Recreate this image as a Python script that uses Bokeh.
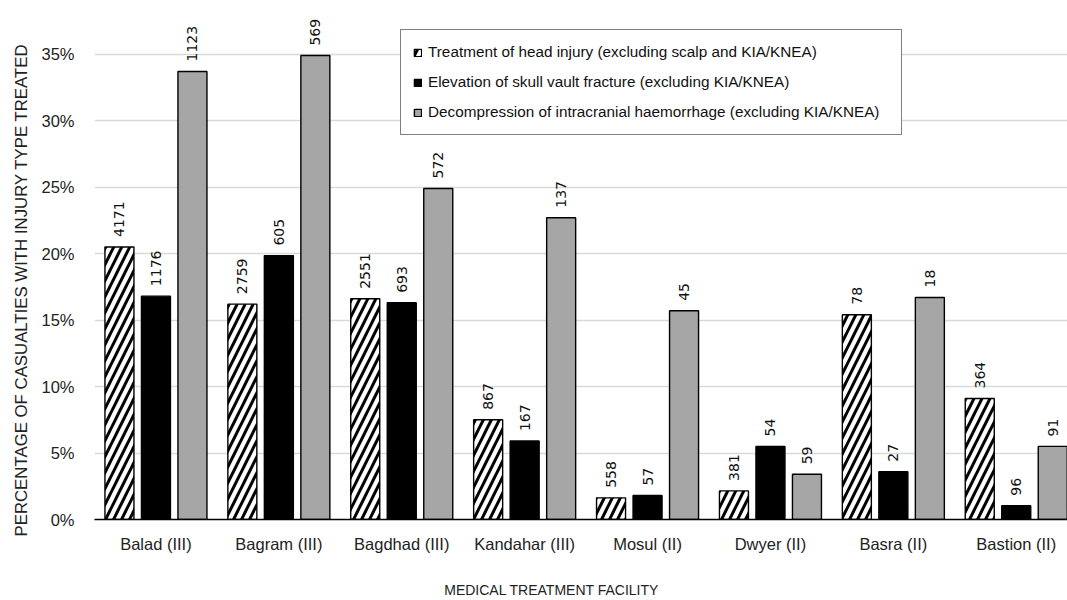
import math
from bokeh.plotting import figure
from bokeh.models import (Range1d, FixedTicker, Legend, LegendItem, Title,
                          ColumnDataSource, NumeralTickFormatter)
from bokeh.core.properties import value
from bokeh.transform import dodge
from bokeh.embed import file_html
from bokeh.resources import INLINE

# ---------------- data ----------------
facilities = ["Balad (III)", "Bagram (III)", "Bagdhad (III)", "Kandahar (III)",
              "Mosul (II)", "Dwyer (II)", "Basra (II)", "Bastion (II)"]
head_pct = [0.205, 0.162, 0.166, 0.075, 0.0163, 0.0215, 0.154, 0.091]
head_n = [4171, 2759, 2551, 867, 558, 381, 78, 364]
skull_pct = [0.168, 0.1985, 0.163, 0.059, 0.018, 0.055, 0.036, 0.0104]
skull_n = [1176, 605, 693, 167, 57, 54, 27, 96]
decomp_pct = [0.337, 0.349, 0.249, 0.227, 0.157, 0.034, 0.167, 0.055]
decomp_n = [1123, 569, 572, 137, 45, 59, 18, 91]
y_ticks = [0.0, 0.05, 0.10, 0.15, 0.20, 0.25, 0.30, 0.35]
series_labels = ["Treatment of head injury (excluding scalp and KIA/KNEA)",
                 "Elevation of skull vault fracture (excluding KIA/KNEA)",
                 "Decompression of intracranial haemorrhage (excluding KIA/KNEA)"]
x_title = "MEDICAL TREATMENT FACILITY"
y_title = "PERCENTAGE OF CASUALTIES WITH INJURY TYPE TREATED"

centers = [i + 0.5 for i in range(len(facilities))]
src = ColumnDataSource(dict(
    x=centers,
    head=head_pct, head_lbl=[str(v) for v in head_n],
    skull=skull_pct, skull_lbl=[str(v) for v in skull_n],
    decomp=decomp_pct, decomp_lbl=[str(v) for v in decomp_n],
))

FONT = "Liberation Sans"
LBL_FONT = "DejaVu Sans"
TXT = "#222222"

p = figure(width=1067, height=600, output_backend="svg", toolbar_location=None,
           x_range=Range1d(0, 7.917), y_range=Range1d(0, 0.3904),
           min_border_left=94, min_border_right=0, min_border_top=0,
           min_border_bottom=73)
p.outline_line_color = None
p.background_fill_color = "white"

OFF = 0.297
W = 0.236
common = dict(source=src, width=W, line_color="black", line_width=1.4)
r_head = p.vbar(x=dodge("x", -OFF), top="head", fill_color="white",
                hatch_pattern="/", hatch_color="black", hatch_scale=16,
                hatch_weight=3.0, **common)
r_skull = p.vbar(x=dodge("x", 0), top="skull", fill_color="black", **common)
r_decomp = p.vbar(x=dodge("x", OFF), top="decomp", fill_color="#a6a6a6", **common)

for off, col in [(-OFF, "head"), (0, "skull"), (OFF, "decomp")]:
    p.text(x=dodge("x", off), y=col, text=col + "_lbl", source=src,
           angle=math.pi / 2, text_align="left", text_baseline="middle",
           y_offset=-10, text_font=value(LBL_FONT), text_font_size="14px",
           text_color="#111111")

# axes
p.xaxis.ticker = FixedTicker(ticks=centers)
p.xaxis.major_label_overrides = {c: f for c, f in zip(centers, facilities)}
p.xaxis.axis_line_color = "black"
p.xaxis.axis_line_width = 1.5
p.xaxis.major_tick_line_color = None
p.xaxis.minor_tick_line_color = None
p.xaxis.major_label_standoff = 9
p.xaxis.major_label_text_font = FONT
p.xaxis.major_label_text_font_size = "16.5px"
p.xaxis.major_label_text_color = TXT
# x title: trailing no-break spaces shift its centre left, as in the reference
p.xaxis.axis_label = x_title + "\u00a0" * 15
p.xaxis.axis_label_standoff = 26
p.xaxis.axis_label_text_font = FONT
p.xaxis.axis_label_text_font_size = "14px"
p.xaxis.axis_label_text_font_style = "normal"
p.xaxis.axis_label_text_color = TXT

p.yaxis.ticker = FixedTicker(ticks=y_ticks)
p.yaxis.formatter = NumeralTickFormatter(format="0%")
p.yaxis.axis_line_color = None
p.yaxis.major_tick_line_color = None
p.yaxis.minor_tick_line_color = None
p.yaxis.major_label_standoff = 14
p.yaxis.major_label_text_font = FONT
p.yaxis.major_label_text_font_size = "16.5px"
p.yaxis.major_label_text_color = TXT

p.xgrid.grid_line_color = None
p.ygrid.ticker = FixedTicker(ticks=y_ticks)
p.ygrid.grid_line_color = "#d9d9d9"
p.ygrid.grid_line_width = 1.3

# y title
p.add_layout(Title(text=y_title, align="left", offset=-17, standoff=16,
                   text_font=FONT, text_font_size="16.8px",
                   text_font_style="normal", text_color=TXT), "left")

legend = Legend(items=[LegendItem(label=series_labels[0], renderers=[r_head]),
                       LegendItem(label=series_labels[1], renderers=[r_skull]),
                       LegendItem(label=series_labels[2], renderers=[r_decomp])],
                location=(306, 384), orientation="vertical",
                glyph_width=9, glyph_height=9, label_standoff=6,
                padding=12, spacing=10, label_height=20, label_width=461,
                margin=0,
                border_line_color="black", border_line_width=1.2,
                background_fill_alpha=1.0,
                label_text_font=FONT, label_text_font_size="15.3px",
                label_text_color="#111111")
p.add_layout(legend)

open("out.html", "w").write(file_html(p, INLINE))
